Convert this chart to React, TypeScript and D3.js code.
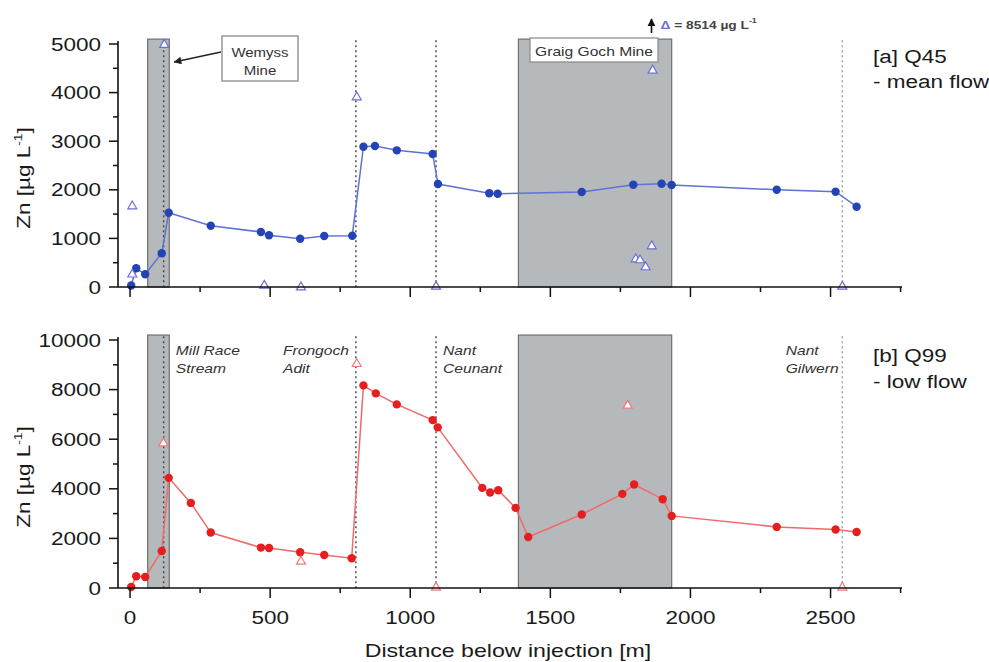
import React from "react";
import * as d3 from "d3";

// ---------- data ----------
const distQ45 = [4, 22, 54, 113, 138, 288, 467, 496, 607, 693, 793, 833, 874, 952, 1080, 1099, 1282, 1312, 1612, 1796, 1897, 1933, 2308, 2518, 2593];
const znQ45 = [30, 385, 261, 693, 1529, 1261, 1132, 1064, 994, 1049, 1056, 2887, 2901, 2812, 2737, 2119, 1928, 1920, 1955, 2105, 2126, 2099, 2002, 1961, 1652];

const distQ99 = [4, 22, 54, 113, 138, 217, 288, 467, 496, 607, 693, 791, 833, 877, 952, 1080, 1098, 1257, 1285, 1314, 1376, 1421, 1612, 1757, 1799, 1901, 1933, 2308, 2518, 2593];
const znQ99 = [40, 472, 444, 1494, 4441, 3431, 2236, 1630, 1615, 1441, 1332, 1199, 8170, 7848, 7404, 6770, 6476, 4037, 3851, 3944, 3230, 2059, 2963, 3795, 4174, 3581, 2907, 2463, 2358, 2261];

const inflowDistQ45 = [8, 8, 122, 479, 610, 809, 1092, 1805, 1820, 1840, 1862, 1865, 2542];
const inflowZnQ45 = [1673, 270, 4995, 40, 5, 3916, 20, 583, 563, 419, 850, 4465, 20];
const offscaleDist = 1861;
const offscaleValue = 8514;

const inflowDistQ99 = [119, 610, 809, 1092, 1776, 2542];
const inflowZnQ99 = [5854, 1090, 9057, 40, 7376, 40];

const mineStart = [63, 1386];
const mineEnd = [140, 1933];
const tributaryDist = [120, 806, 1092, 2542];
const tributaryNames = [["Mill Race", "Stream"], ["Frongoch", "Adit"], ["Nant", "Ceunant"], ["Nant", "Gilwern"]];
const tributaryLabelDist = [163, 546, 1117, 2340];

const xTicks = [0, 500, 1000, 1500, 2000, 2500];
const xMinor = [250, 750, 1250, 1750, 2250, 2750];
const yTicksA = [0, 1000, 2000, 3000, 4000, 5000];
const yMinorA = [500, 1500, 2500, 3500, 4500];
const yTicksB = [0, 2000, 4000, 6000, 8000, 10000];
const yMinorB = [1000, 3000, 5000, 7000, 9000];

// ---------- style ----------
const FONT = "'Liberation Sans', Arial, sans-serif";
const SX = 1.25;
const BLUE = "#2443b5";
const BLUE_LINE = "#5f72d6";
const BLUE_TRI = "#6a6fd8";
const RED = "#e61e1e";
const RED_LINE = "#f06a6a";
const RED_TRI = "#f07a7a";
const GREY_FILL = "#b6b9bb";
const GREY_STROKE = "#6f6f6f";

const x = d3.scaleLinear().domain([-43, 2755]).range([118, 902]);
const yA = d3.scaleLinear().domain([0, 5000]).range([287, 44]);
const yB = d3.scaleLinear().domain([0, 10000]).range([588, 340]);

function T(props: any) {
  const { x: tx, y: ty, rotate, anchor = "start", size = 18, italic, weight, fill = "#1a1a1a", children } = props;
  const tr = `translate(${tx},${ty})${rotate ? ` rotate(${rotate})` : ""} scale(${SX},1)`;
  return (
    <text transform={tr} textAnchor={anchor} fontSize={size} fontFamily={FONT}
      fontStyle={italic ? "italic" : "normal"} fontWeight={weight || "normal"} fill={fill}>
      {children}
    </text>
  );
}

function tri(cx: number, cy: number, s: number) {
  const h = s * 0.87;
  return `M${cx},${cy - h * 0.6}L${cx + s / 2},${cy + h * 0.4}L${cx - s / 2},${cy + h * 0.4}Z`;
}

function Panel(props: any) {
  const { y, top, dist, zn, idist, izn, color, lineColor, triColor, yTicks, yMinor, showXLabels } = props;
  const y0 = y(0);
  const line = d3.line<number>().x((_, i) => x(dist[i])).y((v) => y(v));
  const domTop = y.domain()[1];
  return (
    <g>
      {mineStart.map((s: number, i: number) => (
        <rect key={"m" + i} x={x(s)} y={y(domTop * 1.02)} width={x(mineEnd[i]) - x(s)} height={y0 - y(domTop * 1.02)}
          fill={GREY_FILL} stroke={GREY_STROKE} strokeWidth={1.2} />
      ))}
      {tributaryDist.map((d: number, i: number) => (
        <line key={"t" + i} x1={x(d)} x2={x(d)} y1={y(domTop * 1.015)} y2={y0}
          stroke={i === 3 ? "#9aa0a8" : "#444"} strokeWidth={1.4} strokeDasharray="2,3" />
      ))}
      <path d={line(zn) || ""} fill="none" stroke={lineColor} strokeWidth={1.5} />
      {zn.map((v: number, i: number) => (
        <circle key={"c" + i} cx={x(dist[i])} cy={y(v)} r={4.2} fill={color} />
      ))}
      {izn.map((v: number, i: number) => (
        <path key={"tr" + i} d={tri(x(idist[i]), y(v), 9)} fill="white" stroke={triColor} strokeWidth={1.2} />
      ))}
      {/* axes */}
      <line x1={x.range()[0]} x2={x.range()[1]} y1={y0} y2={y0} stroke="#111" strokeWidth={1.6} />
      <line x1={x.range()[0]} x2={x.range()[0]} y1={y0} y2={y(domTop) - 3} stroke="#111" strokeWidth={1.6} />
      {xTicks.map((t: number) => (
        <line key={"xt" + t} x1={x(t)} x2={x(t)} y1={y0} y2={y0 + 10} stroke="#111" strokeWidth={1.5} />
      ))}
      {xMinor.map((t: number) => (
        <line key={"xm" + t} x1={x(t)} x2={x(t)} y1={y0} y2={y0 + 5} stroke="#111" strokeWidth={1.5} />
      ))}
      {showXLabels && xTicks.map((t: number) => (
        <T key={"xl" + t} x={x(t)} y={y0 + 36} anchor="middle" size={18}>{t}</T>
      ))}
      {yTicks.map((t: number) => (
        <g key={"yt" + t}>
          <line x1={x.range()[0] - 9} x2={x.range()[0]} y1={y(t)} y2={y(t)} stroke="#111" strokeWidth={1.5} />
          <T x={x.range()[0] - 17} y={y(t) + 6.5} anchor="end" size={18}>{t}</T>
        </g>
      ))}
      {yMinor.map((t: number) => (
        <line key={"ym" + t} x1={x.range()[0] - 5} x2={x.range()[0]} y1={y(t)} y2={y(t)} stroke="#111" strokeWidth={1.5} />
      ))}
      <T x={30} y={top} rotate={-90} anchor="middle" size={18}>
        Zn [µg L<tspan fontSize={11} dy={-8}>-1</tspan><tspan dy={8}>]</tspan>
      </T>
    </g>
  );
}

export default function App() {
  return (
    <svg width={989} height={662} style={{ position: "absolute", left: 0, top: 0, background: "white" }}>
      <rect width={989} height={662} fill="white" />
      <Panel y={yA} top={178} dist={distQ45} zn={znQ45} idist={inflowDistQ45} izn={inflowZnQ45}
        color={BLUE} lineColor={BLUE_LINE} triColor={BLUE_TRI} yTicks={yTicksA} yMinor={yMinorA} showXLabels={false} />
      <Panel y={yB} top={477} dist={distQ99} zn={znQ99} idist={inflowDistQ99} izn={inflowZnQ99}
        color={RED} lineColor={RED_LINE} triColor={RED_TRI} yTicks={yTicksB} yMinor={yMinorB} showXLabels={true} />

      {/* Wemyss Mine callout */}
      <defs>
        <marker id="ah" viewBox="0 0 10 10" refX={9} refY={5} markerWidth={8} markerHeight={6} orient="auto">
          <path d="M0,0L10,5L0,10Z" fill="#222" />
        </marker>
        <marker id="up" viewBox="0 0 10 10" refX={9} refY={5} markerWidth={5} markerHeight={6} orient="auto">
          <path d="M0,0L10,5L0,10Z" fill="#111" />
        </marker>
      </defs>
      <rect x={222} y={36} width={76} height={45} fill="white" stroke="#888" strokeWidth={1.3} />
      <T x={260} y={57} anchor="middle" size={12} fill="#333">Wemyss</T>
      <T x={260} y={75} anchor="middle" size={12} fill="#333">Mine</T>
      <line x1={221} y1={52} x2={x(mineEnd[0]) + 5} y2={62} stroke="#222" strokeWidth={1.3} markerEnd="url(#ah)" />

      {/* Graig Goch Mine label */}
      <rect x={530} y={38} width={128} height={24} fill="white" stroke="#888" strokeWidth={1.2} />
      <T x={594} y={56} anchor="middle" size={12.5} fill="#333">Graig Goch Mine</T>

      {/* off-scale value */}
      <line x1={x(offscaleDist)} x2={x(offscaleDist)} y1={33} y2={19} stroke="#111" strokeWidth={1.6} markerEnd="url(#up)" />
      <T x={x(offscaleDist) + 9} y={29} size={11} weight="bold" fill="#444">
        <tspan fill={BLUE_TRI}>Δ</tspan> = {offscaleValue} µg L<tspan fontSize={7} dy={-6}>-1</tspan>
      </T>

      {/* panel labels */}
      <T x={873} y={63} size={18}>[a] Q45</T>
      <T x={873} y={88} size={18}>- mean flow</T>
      <T x={873} y={362} size={18}>[b] Q99</T>
      <T x={873} y={388} size={18}>- low flow</T>

      {/* tributary names */}
      {tributaryNames.map((nm, i) => (
        <g key={"tn" + i}>
          <T x={x(tributaryLabelDist[i])} y={355} size={12.5} italic fill="#333">{nm[0]}</T>
          <T x={x(tributaryLabelDist[i])} y={373} size={12.5} italic fill="#333">{nm[1]}</T>
        </g>
      ))}

      <T x={508} y={657} anchor="middle" size={18.5}>Distance below injection [m]</T>
    </svg>
  );
}
